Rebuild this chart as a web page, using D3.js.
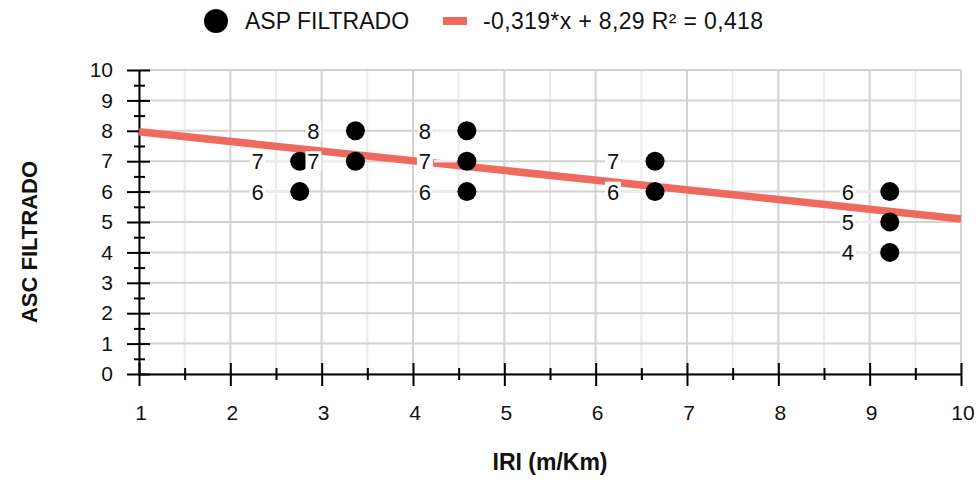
<!DOCTYPE html>
<html>
<head>
<meta charset="utf-8">
<script src="https://cdn.jsdelivr.net/npm/d3@7"></script>
<style>
    body { margin: 0; background: #fff; }
    svg { display: block; font-family: "Liberation Sans", Arial, sans-serif; }
</style>
</head>
<body>
<svg id="chart" width="979" height="491"></svg>
<script>
// data
const iri = [2.76, 2.76, 3.37, 3.37, 4.59, 4.59, 4.59, 6.65, 6.65, 9.22, 9.22, 9.22];
const asc = [7, 6, 8, 7, 8, 7, 6, 7, 6, 6, 5, 4];
const pointLabels = ["7", "6", "8", "7", "8", "7", "6", "7", "6", "6", "5", "4"];

// trend line end points (x, y)
const trendX = [1, 10];
const trendY = [7.97, 5.10];

const xTicks = [1, 2, 3, 4, 5, 6, 7, 8, 9, 10];
const xMinorTicks = [1.5, 2.5, 3.5, 4.5, 5.5, 6.5, 7.5, 8.5, 9.5];
const yTicks = [0, 1, 2, 3, 4, 5, 6, 7, 8, 9, 10];
const yMinorTicks = [0.5, 1.5, 2.5, 3.5, 4.5, 5.5, 6.5, 7.5, 8.5, 9.5];

const seriesName = "ASP FILTRADO";
const trendName = "-0,319*x + 8,29 R² = 0,418";
const xTitle = "IRI (m/Km)";
const yTitle = "ASC FILTRADO";

const colors = {
    gridMajor: "#d2d2d2",
    gridMinor: "#ebebeb",
    axis: "#000",
    points: "#000",
    trend: "#ef695f",
    text: "#111",
};

const svg = d3.select("#chart");

const x = d3.scaleLinear().domain([1, 10]).range([139, 961]);
const y = d3.scaleLinear().domain([0, 10]).range([374, 70]);

// grid
const grid = svg.append("g");
grid.selectAll(".vminor")
    .data(xMinorTicks)
    .join("line")
    .attr("x1", d => x(d)).attr("x2", d => x(d))
    .attr("y1", y(0)).attr("y2", y(10))
    .attr("stroke", colors.gridMinor)
    .attr("stroke-width", 2);
grid.selectAll(".vmajor")
    .data(xTicks)
    .join("line")
    .attr("x1", d => x(d)).attr("x2", d => x(d))
    .attr("y1", y(0)).attr("y2", y(10))
    .attr("stroke", colors.gridMajor)
    .attr("stroke-width", 2);
grid.selectAll(".hmajor")
    .data(yTicks)
    .join("line")
    .attr("x1", x(1)).attr("x2", x(10))
    .attr("y1", d => y(d)).attr("y2", d => y(d))
    .attr("stroke", colors.gridMajor)
    .attr("stroke-width", 2);

// axes
function styleAxis(g) {
    g.select(".domain").attr("stroke", colors.axis).attr("stroke-width", 2);
    g.selectAll(".tick line").attr("stroke", colors.axis).attr("stroke-width", 2);
    g.selectAll(".tick text")
        .attr("fill", colors.text)
        .attr("font-size", 21)
        .attr("font-family", "'Liberation Sans', Arial, sans-serif");
}

const xAxis = svg.append("g")
    .attr("transform", `translate(0,${y(0)})`)
    .call(d3.axisBottom(x).tickValues(xTicks).tickSize(0).tickSizeOuter(0).tickPadding(31).tickFormat(d3.format("d")))
    .call(styleAxis);
xAxis.selectAll(".tick line").attr("y1", -11).attr("y2", 12);
xAxis.selectAll(".tick text").attr("dx", 1.5);

const xMinor = svg.append("g")
    .attr("transform", `translate(0,${y(0)})`)
    .call(d3.axisBottom(x).tickValues(xMinorTicks).tickSize(0).tickFormat(""))
    .call(styleAxis);
xMinor.select(".domain").remove();
xMinor.selectAll(".tick line").attr("y1", -6).attr("y2", 6);

const yAxis = svg.append("g")
    .attr("transform", `translate(${x(1)},0)`)
    .call(d3.axisLeft(y).tickValues(yTicks).tickSize(0).tickSizeOuter(0).tickPadding(26).tickFormat(d3.format("d")))
    .call(styleAxis);
yAxis.selectAll(".tick line").attr("x1", -12).attr("x2", 11);

const yMinor = svg.append("g")
    .attr("transform", `translate(${x(1)},0)`)
    .call(d3.axisLeft(y).tickValues(yMinorTicks).tickSize(0).tickFormat(""))
    .call(styleAxis);
yMinor.select(".domain").remove();
yMinor.selectAll(".tick line").attr("x1", -5).attr("x2", 6);

// trend line
const trend = trendX.map((d, i) => [d, trendY[i]]);
svg.append("path")
    .datum(trend)
    .attr("d", d3.line().x(d => x(d[0])).y(d => y(d[1])))
    .attr("stroke", colors.trend)
    .attr("stroke-width", 7.5)
    .attr("fill", "none");

// points
const points = iri.map((d, i) => ({ x: d, y: asc[i], label: pointLabels[i] }));
const r = 9.5;

svg.append("g").selectAll("circle")
    .data(points)
    .join("circle")
    .attr("cx", d => x(d.x))
    .attr("cy", d => y(d.y))
    .attr("r", r)
    .attr("fill", colors.points);

// data labels
const labelOffset = 42;
const labels = svg.append("g");
labels.selectAll("line")
    .data(points)
    .join("line")
    .attr("x1", d => x(d.x) - labelOffset + 9)
    .attr("x2", d => x(d.x) - r - 1)
    .attr("y1", d => y(d.y)).attr("y2", d => y(d.y))
    .attr("stroke", "#eeeeee")
    .attr("stroke-width", 2.5);
labels.selectAll("rect")
    .data(points)
    .join("rect")
    .attr("x", d => x(d.x) - labelOffset - 8)
    .attr("y", d => y(d.y) - 10)
    .attr("width", 16)
    .attr("height", 20)
    .attr("fill", "#fff");
labels.selectAll("text")
    .data(points)
    .join("text")
    .attr("x", d => x(d.x) - labelOffset)
    .attr("y", d => y(d.y))
    .attr("dy", "0.36em")
    .attr("text-anchor", "middle")
    .attr("font-size", 22)
    .attr("fill", colors.text)
    .text(d => d.label);

// axis titles
svg.append("text")
    .attr("x", (x(1) + x(10)) / 2)
    .attr("y", 470)
    .attr("text-anchor", "middle")
    .attr("font-size", 23)
    .attr("font-weight", "bold")
    .attr("fill", colors.text)
    .text(xTitle);

svg.append("text")
    .attr("transform", "translate(37,242) rotate(-90)")
    .attr("text-anchor", "middle")
    .attr("font-size", 22)
    .attr("font-weight", "bold")
    .attr("fill", colors.text)
    .text(yTitle);

// legend
const legend = svg.append("g");
legend.append("circle")
    .attr("cx", 216).attr("cy", 21).attr("r", 12)
    .attr("fill", colors.points);
legend.append("text")
    .attr("x", 245).attr("y", 29)
    .attr("font-size", 23)
    .attr("fill", colors.text)
    .text(seriesName);
legend.append("line")
    .attr("x1", 443).attr("x2", 467)
    .attr("y1", 21).attr("y2", 21)
    .attr("stroke", colors.trend)
    .attr("stroke-width", 8);
legend.append("text")
    .attr("x", 483).attr("y", 29)
    .attr("font-size", 23)
    .attr("textLength", 280)
    .attr("lengthAdjust", "spacing")
    .attr("fill", colors.text)
    .text(trendName);
</script>
</body>
</html>
